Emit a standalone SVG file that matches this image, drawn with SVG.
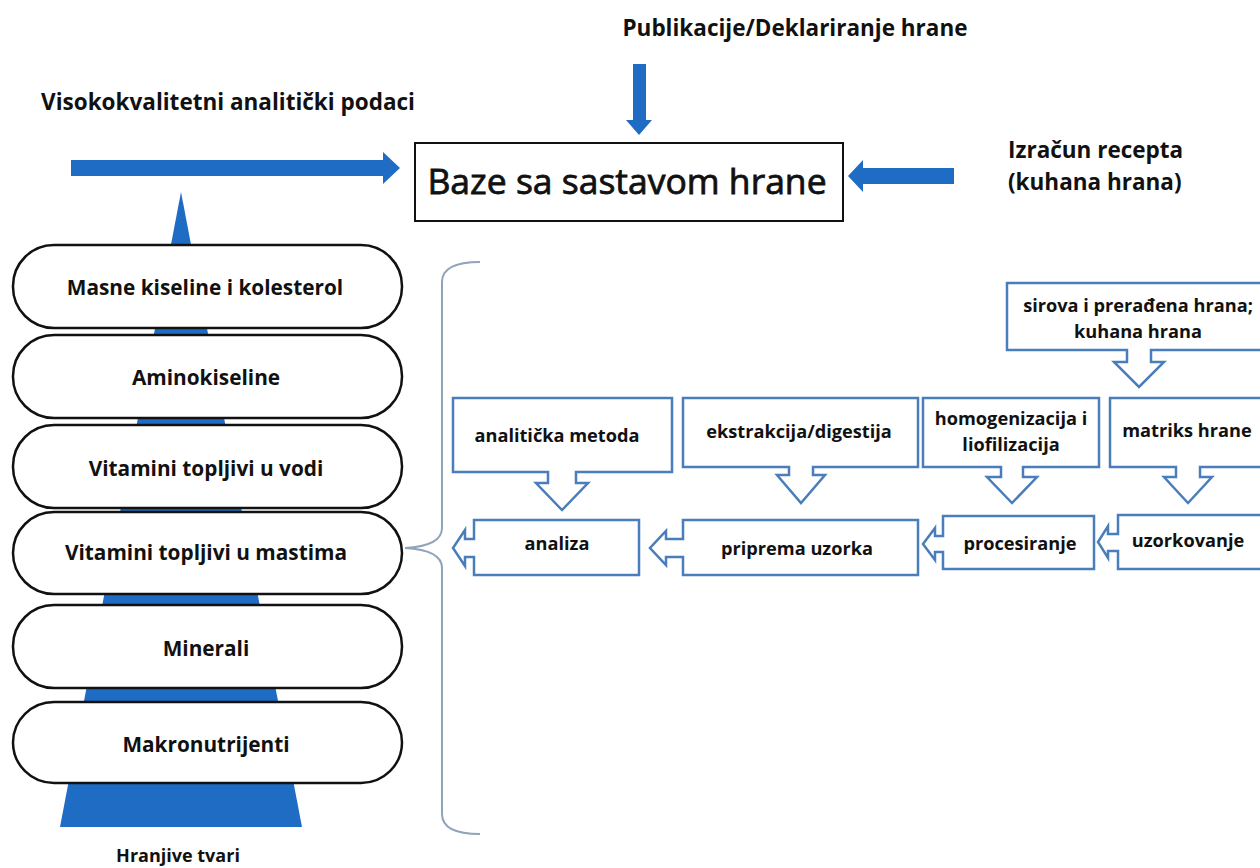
<svg xmlns="http://www.w3.org/2000/svg" width="1260" height="868" viewBox="0 0 1260 868">
<style>
text{font-family:"Open Sans","Liberation Sans",sans-serif;font-weight:bold;fill:#111;}
.pill{fill:#fff;stroke:#111;stroke-width:2.5;}
.pt{font-size:20.8px;text-anchor:middle;}
.co{fill:#fff;stroke:#4a7dbb;stroke-width:2.5;stroke-linejoin:miter;}
.ft{font-size:18.2px;text-anchor:middle;}
.big{font-size:22.5px;}
.main{font-size:35.5px;font-weight:normal;text-anchor:middle;stroke:#111;stroke-width:0.8px;}
.blue{fill:#1f6cc4;}
</style>
<rect width="1260" height="868" fill="#fff"/>

<g id="pyramid">
<polygon class="blue" points="181,192 302,827 60,827"/>
</g>

<g id="connectors">
<polygon class="blue" points="633,64 646,64 646,120 652,120 639,135 626,120 633,120"/>
<polygon class="blue" points="71,160 383,160 383,152 400,168 383,184 383,176 71,176"/>
<polygon class="blue" points="954,168 863,168 863,160 848,176 863,192 863,184 954,184"/>
<path d="M480,262 Q442,262 442,282 L442,528 Q442,546 405,548 Q442,550 442,568 L442,814 Q442,834 480,834" fill="none" stroke="#8fa4ba" stroke-width="2"/>
</g>

<g id="title-pub"><text class="big" x="795" y="36" text-anchor="middle">Publikacije/Deklariranje hrane</text></g>
<g id="title-visoko"><text class="big" x="228" y="110" text-anchor="middle">Visokokvalitetni analitički podaci</text></g>
<g id="title-izracun"><text class="big" x="1008" y="158">Izračun recepta</text><text class="big" x="1008" y="190">(kuhana hrana)</text></g>

<g id="baze">
<rect x="415" y="143" width="428" height="78" fill="#fff" stroke="#111" stroke-width="2"/>
<text class="main" x="627" y="194">Baze sa sastavom hrane</text>
</g>

<g id="pill-masne"><rect class="pill" x="13" y="245" width="389" height="83" rx="41"/><text class="pt" x="205" y="295">Masne kiseline i kolesterol</text></g>
<g id="pill-amino"><rect class="pill" x="13" y="335" width="389" height="83" rx="41"/><text class="pt" x="206" y="385">Aminokiseline</text></g>
<g id="pill-vodi"><rect class="pill" x="13" y="425" width="389" height="83" rx="41"/><text class="pt" x="206" y="476">Vitamini topljivi u vodi</text></g>
<g id="pill-mastima"><rect class="pill" x="13" y="512" width="389" height="82" rx="41"/><text class="pt" x="206" y="560">Vitamini topljivi u mastima</text></g>
<g id="pill-minerali"><rect class="pill" x="13" y="605" width="389" height="83" rx="41"/><text class="pt" x="206" y="656">Minerali</text></g>
<g id="pill-makro"><rect class="pill" x="13" y="702" width="389" height="81" rx="41"/><text class="pt" x="206" y="752">Makronutrijenti</text></g>
<g id="hranjive"><text x="178" y="862" font-size="18" text-anchor="middle">Hranjive tvari</text></g>

<g id="sirova">
<path class="co" d="M1007,283 H1272 V350 H1151 V362 H1164 L1139,387 L1114,362 H1127 V350 H1007 Z"/>
<text class="ft" x="1138" y="312">sirova i prerađena hrana;</text>
<text class="ft" x="1138" y="338">kuhana hrana</text>
</g>
<g id="analiticka">
<path class="co" d="M453,398 H672 V472 H576 V483 H588 L562,510 L536,483 H548 V472 H453 Z"/>
<text class="ft" x="557" y="442">analitička metoda</text>
</g>
<g id="ekstrakcija">
<path class="co" d="M683,398 H918 V467 H813 V475 H825 L801,503 L777,475 H789 V467 H683 Z"/>
<text class="ft" x="799" y="438">ekstrakcija/digestija</text>
</g>
<g id="homogenizacija">
<path class="co" d="M923,398 H1099 V467 H1023 V477 H1037 L1012,503 L987,477 H1001 V467 H923 Z"/>
<text class="ft" x="1011" y="425">homogenizacija i</text>
<text class="ft" x="1011" y="451">liofilizacija</text>
</g>
<g id="matriks">
<path class="co" d="M1110,398 H1272 V467 H1200 V477 H1212 L1188,503 L1164,477 H1176 V467 H1110 Z"/>
<text class="ft" x="1187" y="437">matriks hrane</text>
</g>
<g id="analiza">
<path class="co" d="M474,520 H639 V575 H474 V557 H465 V566 L453,548 L465,530 V539 H474 Z"/>
<text class="ft" x="557" y="550">analiza</text>
</g>
<g id="priprema">
<path class="co" d="M683,520 H918 V575 H683 V557 H666 V565 L650,548 L666,531 V539 H683 Z"/>
<text class="ft" x="797" y="555">priprema uzorka</text>
</g>
<g id="procesiranje">
<path class="co" d="M943,516 H1094 V569 H943 V552 H935 V560 L923,544 L935,528 V536 H943 Z"/>
<text class="ft" x="1020" y="550">procesiranje</text>
</g>
<g id="uzorkovanje">
<path class="co" d="M1118,515 H1272 V569 H1118 V551 H1108 V558 L1098,542 L1108,526 V534 H1118 Z"/>
<text class="ft" x="1188" y="547">uzorkovanje</text>
</g>
</svg>
